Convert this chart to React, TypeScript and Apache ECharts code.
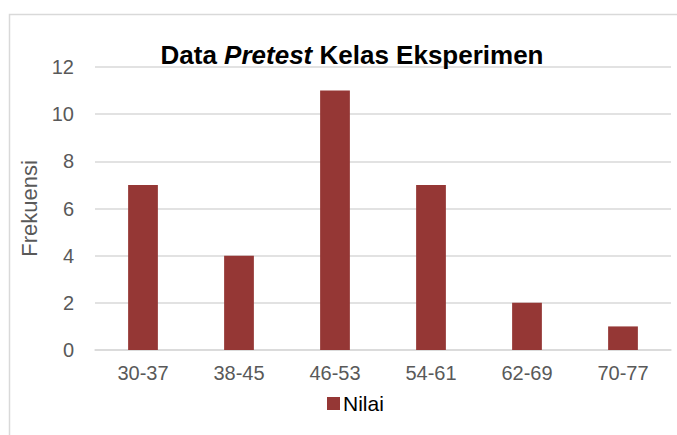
import React, { useEffect, useRef } from "react";
import * as echarts from "echarts";

const categories = ["30-37", "38-45", "46-53", "54-61", "62-69", "70-77"];
const nilai = [7, 4, 11, 7, 2, 1];
const seriesName = "Nilai";
const yAxisName = "Frekuensi";

const FONT = "'Liberation Sans', Arial, sans-serif";

export default function App() {
  const ref = useRef<HTMLDivElement>(null);
  useEffect(() => {
    const chart = echarts.init(ref.current!, null, { renderer: "svg" });
    chart.setOption({
      animation: false,
      backgroundColor: "#ffffff",
      title: {
        text: "{b|Data }{bi|Pretest}{b| Kelas Eksperimen}",
        left: 347,
        textAlign: "center",
        top: 37,
        textStyle: {
          rich: {
            b: { fontFamily: FONT, fontSize: 26, fontWeight: "bold", color: "#000000" },
            bi: { fontFamily: FONT, fontSize: 26, fontWeight: "bold", fontStyle: "italic", color: "#000000" },
          },
        },
      },
      graphic: [
        {
          type: "rect",
          shape: { x: 9.5, y: 14.5, width: 700, height: 500 },
          style: { fill: "none", stroke: "#d9d9d9", lineWidth: 1.5 },
          silent: true,
        },
      ],
      legend: {
        data: [seriesName],
        bottom: 16,
        left: 322,
        itemWidth: 13,
        itemHeight: 13,
        itemGap: 4,
        icon: "rect",
        textStyle: { fontFamily: FONT, fontSize: 21, color: "#000000", padding: [0, 0, 0, -2] },
      },
      grid: { left: 95, right: 6, top: 67, bottom: 85 },
      xAxis: {
        type: "category",
        data: categories,
        axisLine: { show: true, lineStyle: { color: "#d9d9d9", width: 1.5 } },
        axisTick: { show: false },
        axisLabel: { fontFamily: FONT, fontSize: 20, color: "#595959", margin: 13 },
      },
      yAxis: {
        type: "value",
        min: 0,
        max: 12,
        interval: 2,
        name: yAxisName,
        nameLocation: "middle",
        nameGap: 52,
        nameRotate: 90,
        nameTextStyle: { fontFamily: FONT, fontSize: 22, color: "#595959" },
        axisLine: { show: false },
        axisTick: { show: false },
        splitLine: { lineStyle: { color: "#d9d9d9", width: 1.5 } },
        axisLabel: { fontFamily: FONT, fontSize: 20, color: "#595959", margin: 21 },
      },
      series: [
        {
          name: seriesName,
          type: "bar",
          data: nilai,
          barWidth: "31%",
          itemStyle: { color: "#953735" },
        },
      ],
    });
    return () => chart.dispose();
  }, []);
  return (
    <div
      ref={ref}
      style={{ position: "fixed", left: 0, top: 0, width: 677, height: 435 }}
    />
  );
}
